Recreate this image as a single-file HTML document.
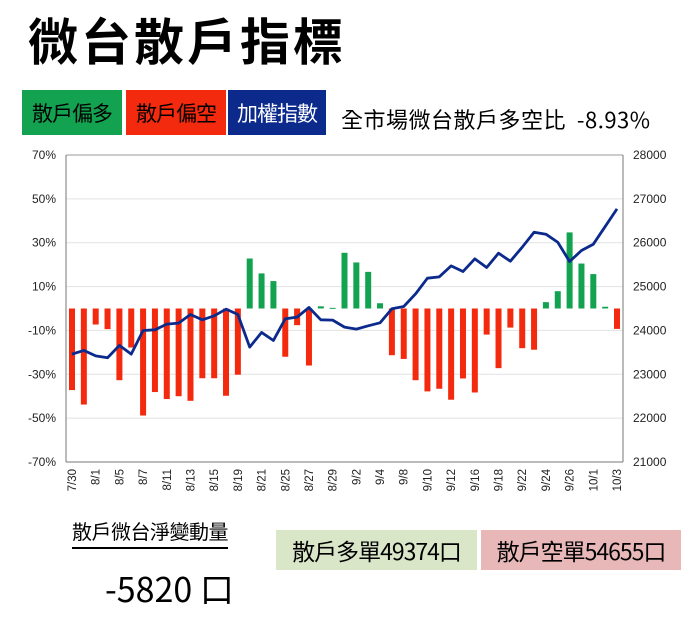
<!DOCTYPE html>
<html><head><meta charset="utf-8"><style>
body{margin:0;width:686px;height:622px;background:#fff;font-family:"Liberation Sans","Noto Sans CJK TC",sans-serif;position:relative;overflow:hidden}
.abs{position:absolute;white-space:nowrap}
.box{position:absolute;color:#fff;font-size:21px;display:flex;align-items:center;justify-content:center;font-family:"Noto Sans CJK TC",sans-serif;letter-spacing:-1px}
</style></head><body>
<div class="abs" style="left:28px;top:6px;font-size:50px;font-weight:bold;letter-spacing:3px;font-family:'Noto Sans CJK TC',sans-serif;line-height:66px">微台散戶指標</div>
<div class="box" style="left:22px;top:90px;width:100px;height:45px;background:#13a350;color:#000">散戶偏多</div>
<div class="box" style="left:126px;top:90px;width:100px;height:45px;background:#f42a0e;color:#000">散戶偏空</div>
<div class="box" style="left:228px;top:90px;width:98px;height:45px;background:#0b2a8c">加權指數</div>
<div class="abs" style="left:341px;top:104px;font-size:22px;font-family:'Noto Sans CJK TC',sans-serif;line-height:30px;letter-spacing:0.5px">全市場微台散戶多空比&nbsp;&nbsp;-8.93%</div>
<svg id="chart" width="686" height="510" style="position:absolute;left:0;top:0"></svg>
<div class="abs" style="left:72px;top:517px;font-size:20px;font-family:'Noto Sans CJK TC',sans-serif;border-bottom:2px solid #000;line-height:28px;padding:0 0 2px;letter-spacing:-0.5px">散戶微台淨變動量</div>
<div class="abs" style="left:105px;top:566px;font-size:34px;font-family:'Noto Sans CJK TC',sans-serif;line-height:44px">-5820 口</div>
<div class="box" style="left:276px;top:530px;width:201px;height:40px;background:#d9e6c8;color:#000;font-size:23px">散戶多單49374口</div>
<div class="box" style="left:481px;top:530px;width:200px;height:40px;background:#e8b8b8;color:#000;font-size:23px">散戶空單54655口</div>
<script>
const dates=["7/30","7/31","8/1","8/4","8/5","8/6","8/7","8/8","8/11","8/12","8/13","8/14","8/15","8/18","8/19","8/20","8/21","8/22","8/25","8/26","8/27","8/28","8/29","9/1","9/2","9/3","9/4","9/5","9/8","9/9","9/10","9/11","9/12","9/15","9/16","9/17","9/18","9/19","9/22","9/23","9/24","9/25","9/26","9/30","10/1","10/2","10/3"];
const ratios=[-37.2,-43.8,-7.3,-9.4,-32.7,-17.8,-48.8,-38.1,-41.3,-40.0,-42.1,-31.8,-31.8,-39.8,-30.2,22.8,16.0,12.5,-22.0,-7.6,-26.0,1.0,0.3,25.4,21.0,16.7,2.4,-21.3,-23.0,-32.7,-37.8,-36.6,-41.6,-31.9,-38.3,-11.9,-27.2,-8.7,-18.1,-18.8,2.9,7.9,34.7,20.5,15.7,0.8,-9.3];
const indexVals=[23460,23544,23420,23377,23658,23460,23999,24014,24143,24166,24364,24242,24333,24485,24364,23620,23954,23771,24265,24303,24523,24242,24235,24075,24030,24105,24174,24493,24546,24834,25191,25222,25472,25343,25632,25434,25761,25579,25898,26239,26194,26011,25571,25822,25966,26368,26771];
const leftTicks=[70,50,30,10,-10,-30,-50,-70];
const rightTicks=[28000,27000,26000,25000,24000,23000,22000,21000];
const NS="http://www.w3.org/2000/svg";
const svg=document.getElementById('chart');
const L=66,R=623,T=155,B=462;
const yL=v=>T+(70-v)/140*(B-T);
const yR=v=>T+(28000-v)/7000*(B-T);
const step=(617-72)/(dates.length-1);
const xC=i=>72+i*step;
function mk(tag,a){const e=document.createElementNS(NS,tag);for(const k in a)e.setAttribute(k,a[k]);svg.appendChild(e);return e;}
leftTicks.forEach((t,i)=>{
 const g=mk('line',{x1:L,x2:R,y1:yL(t),y2:yL(t),stroke:i==0?'#999':'#e2e2e2','stroke-width':1});
 
 
 const tx=mk('text',{x:56,y:yL(t)+4,'text-anchor':'end','font-size':12,fill:'#222'});
 tx.textContent=t+'%';
 
 
});
rightTicks.forEach(t=>{
 const tx=mk('text',{x:633,y:yR(t)+4,'font-size':12,fill:'#222'});
 tx.textContent=t;
 
 
});
mk('line',{x1:L,x2:L,y1:T,y2:B,stroke:'#777'});
mk('line',{x1:R,x2:R,y1:T,y2:B,stroke:'#777'});
mk('line',{x1:L,x2:R,y1:B,y2:B,stroke:'#777'});
ratios.forEach((v,i)=>{
 const y0=yL(0),y1=yL(v);
 const h=Math.max(Math.abs(y1-y0),1);
 const r=mk('rect',{x:xC(i)-3,y:Math.min(y0,y1),width:6,height:h,fill:v>=0?'#13a350':'#f42a0e'});
 
 
});
const pl=mk('polyline',{points:indexVals.map((v,i)=>xC(i)+','+yR(v)).join(' '),fill:'none',stroke:'#0b2a8c','stroke-width':2.8,'stroke-linejoin':'round'});


dates.forEach((d,i)=>{
 if(i%2)return;
 const x=xC(i)+4,y=469;
 const tx=mk('text',{x:x,y:y,transform:`rotate(-90 ${x} ${y})`,'text-anchor':'end','font-size':11.5,fill:'#222'});
 tx.textContent=d;
 
 
});
</script>
</body></html>
